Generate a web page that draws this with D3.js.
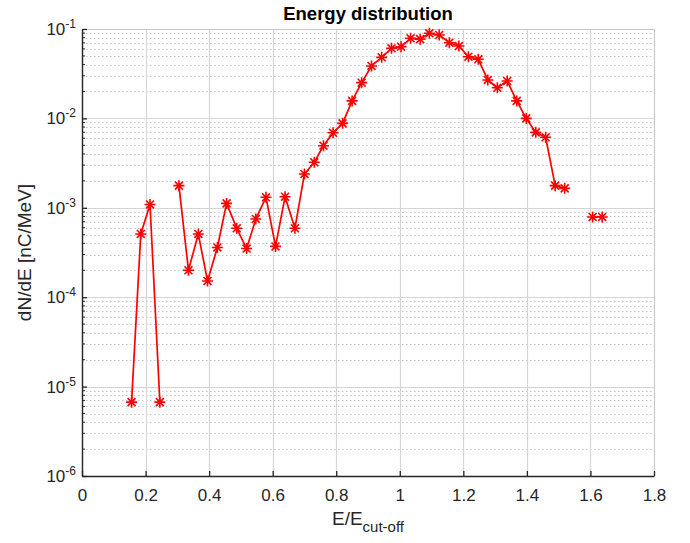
<!DOCTYPE html>
<html>
<head>
<meta charset="utf-8">
<script src="https://cdn.jsdelivr.net/npm/d3@7/dist/d3.min.js"></script>
<style>
  html, body { margin: 0; padding: 0; background: #fff; }
  svg { display: block; font-family: "Liberation Sans", Arial, Helvetica, sans-serif; }
</style>
</head>
<body>
<svg id="chart" width="690" height="543"></svg>
<script>
// Normalised energy E/E_cut-off of each spectrometer bin
const energy = [
  0.156, 0.185, 0.214, 0.245, 0.275, 0.305, 0.335, 0.366, 0.395, 0.426,
  0.455, 0.487, 0.518, 0.547, 0.579, 0.609, 0.639, 0.670, 0.700, 0.731,
  0.760, 0.790, 0.820, 0.850, 0.880, 0.911, 0.943, 0.974, 1.004, 1.034,
  1.064, 1.093, 1.124, 1.156, 1.186, 1.216, 1.247, 1.277, 1.307, 1.338,
  1.368, 1.398, 1.428, 1.459, 1.489, 1.519, 1.548, 1.578, 1.607, 1.637
];
// Charge spectrum dN/dE in nC/MeV (null = empty bin, not drawn on log axis)
const dNdE = [
  6.7e-6, 5.1e-4, 1.09e-3, 6.7e-6, null, 1.77e-3, 2.0e-4, 5.1e-4, 1.52e-4, 3.6e-4,
  1.12e-3, 5.9e-4, 3.5e-4, 7.5e-4, 1.31e-3, 3.7e-4, 1.33e-3, 5.9e-4, 2.39e-3, 3.23e-3,
  4.95e-3, 6.9e-3, 8.8e-3, 1.57e-2, 2.51e-2, 3.86e-2, 4.82e-2, 6.08e-2, 6.34e-2, 7.87e-2,
  7.7e-2, 8.95e-2, 8.57e-2, 7.03e-2, 6.45e-2, 4.9e-2, 4.58e-2, 2.69e-2, 2.2e-2, 2.62e-2,
  1.57e-2, 1.0e-2, 6.98e-3, 6.15e-3, 1.77e-3, 1.65e-3, null, null, 7.9e-4, 7.9e-4
];
const xTicks = [0, 0.2, 0.4, 0.6, 0.8, 1, 1.2, 1.4, 1.6, 1.8];
const xTickLabels = ["0", "0.2", "0.4", "0.6", "0.8", "1", "1.2", "1.4", "1.6", "1.8"];
const yExponents = [-6, -5, -4, -3, -2, -1];
const xDomain = [0, 1.8];
const yDomain = [1e-6, 1e-1];

const svg = d3.select("#chart");
const margin = { left: 82, right: 36, top: 29, bottom: 67 };
const W = 690, H = 543;
const iw = W - margin.left - margin.right;
const ih = H - margin.top - margin.bottom;

const x = d3.scaleLinear().domain(xDomain).range([margin.left, margin.left + iw]);
const y = d3.scaleLog().domain(yDomain).range([margin.top + ih, margin.top]);

const points = energy.map((e, i) => ({ e, v: dNdE[i] }));

// Minor horizontal grid (2..9 within each decade), dotted
const minorY = [];
yExponents.slice(0, -1).forEach(p => {
  for (let m = 2; m <= 9; m++) minorY.push(m * Math.pow(10, p));
});
const grid = svg.append("g");
grid.selectAll("line.minor").data(minorY).join("line")
  .attr("class", "minor")
  .attr("x1", margin.left).attr("x2", margin.left + iw)
  .attr("y1", d => Math.round(y(d)) + 0.5).attr("y2", d => Math.round(y(d)) + 0.5)
  .attr("stroke", "#c4c4c4").attr("stroke-width", 1)
  .attr("stroke-dasharray", "1.5,2.5");

// Major grid lines
grid.selectAll("line.majy").data(yExponents.map(p => Math.pow(10, p))).join("line")
  .attr("x1", margin.left).attr("x2", margin.left + iw)
  .attr("y1", d => Math.round(y(d)) + 0.5).attr("y2", d => Math.round(y(d)) + 0.5)
  .attr("stroke", "#d6d6d6").attr("stroke-width", 1.2);
grid.selectAll("line.majx").data(xTicks).join("line")
  .attr("y1", margin.top).attr("y2", margin.top + ih)
  .attr("x1", d => Math.round(x(d)) + 0.5).attr("x2", d => Math.round(x(d)) + 0.5)
  .attr("stroke", "#d6d6d6").attr("stroke-width", 1.2);

// Box: top/right in light grey
svg.append("path")
  .attr("d", `M${margin.left},${margin.top + 0.5}H${margin.left + iw + 0.5}V${margin.top + ih}`)
  .attr("fill", "none").attr("stroke", "#c8c8c8").attr("stroke-width", 1);

// X axis
const xAxis = d3.axisBottom(x).tickValues(xTicks)
  .tickFormat((d, i) => xTickLabels[i]).tickSizeInner(-5).tickSizeOuter(0).tickPadding(13);
const gx = svg.append("g").attr("transform", `translate(0,${margin.top + ih})`).call(xAxis);
gx.select(".domain").attr("stroke", "#262626").attr("stroke-width", 1.4);
gx.selectAll(".tick line").attr("stroke", "#262626").attr("stroke-width", 1.3);
gx.selectAll(".tick text").attr("font-size", 17).attr("fill", "#262626")
  .attr("font-family", "Liberation Sans, Arial, sans-serif");

// Y axis with decade labels as 10^p
const yAxis = d3.axisLeft(y).tickValues(yExponents.map(p => Math.pow(10, p)))
  .tickFormat("").tickSizeInner(-5).tickSizeOuter(0);
const gy = svg.append("g").attr("transform", `translate(${margin.left},0)`).call(yAxis);
gy.select(".domain").attr("stroke", "#262626").attr("stroke-width", 1.4);
gy.selectAll(".tick line").attr("stroke", "#262626").attr("stroke-width", 1.3);
gy.selectAll("line.ymin").data(minorY).join("line")
  .attr("class", "ymin")
  .attr("x1", 0).attr("x2", 3)
  .attr("y1", d => y(d)).attr("y2", d => y(d))
  .attr("stroke", "#262626").attr("stroke-width", 1);

const yLabels = svg.append("g").attr("fill", "#262626");
yExponents.forEach(p => {
  const t = yLabels.append("text")
    .attr("x", margin.left - 6).attr("y", y(Math.pow(10, p)) + 6)
    .attr("text-anchor", "end").attr("font-size", 17);
  t.append("tspan").text("10");
  t.append("tspan").attr("font-size", 12).attr("dy", -7).text(String(p));
});

// Data line, broken at empty bins
const line = d3.line()
  .defined(d => d.v != null && d.v > 0)
  .x(d => x(d.e)).y(d => y(d.v));
svg.append("path").datum(points)
  .attr("d", line).attr("fill", "none")
  .attr("stroke", "#ff0000").attr("stroke-width", 1.7).attr("stroke-linejoin", "round");

// Asterisk markers
const r = 5.5;
const k = r * 0.72;
const star = `M${-r},0H${r}M0,${-r}V${r}M${-k},${-k}L${k},${k}M${-k},${k}L${k},${-k}`;
svg.append("g").selectAll("path").data(points.filter(d => d.v != null)).join("path")
  .attr("transform", d => `translate(${x(d.e)},${y(d.v)})`)
  .attr("d", star).attr("fill", "none")
  .attr("stroke", "#ff0000").attr("stroke-width", 1.6);

// Title and axis labels
svg.append("text").attr("x", margin.left + iw / 2).attr("y", 20)
  .attr("text-anchor", "middle").attr("font-size", 18.5).attr("font-weight", "bold")
  .attr("fill", "#000").text("Energy distribution");

const xl = svg.append("text").attr("x", margin.left + iw / 2).attr("y", 525)
  .attr("text-anchor", "middle").attr("font-size", 19).attr("fill", "#262626");
xl.append("tspan").text("E/E");
xl.append("tspan").attr("font-size", 15).attr("dy", 7).text("cut-off");

svg.append("text")
  .attr("transform", `translate(31,${margin.top + ih / 2}) rotate(-90)`)
  .attr("text-anchor", "middle").attr("font-size", 19).attr("fill", "#262626")
  .text("dN/dE [nC/MeV]");
</script>
</body>
</html>
